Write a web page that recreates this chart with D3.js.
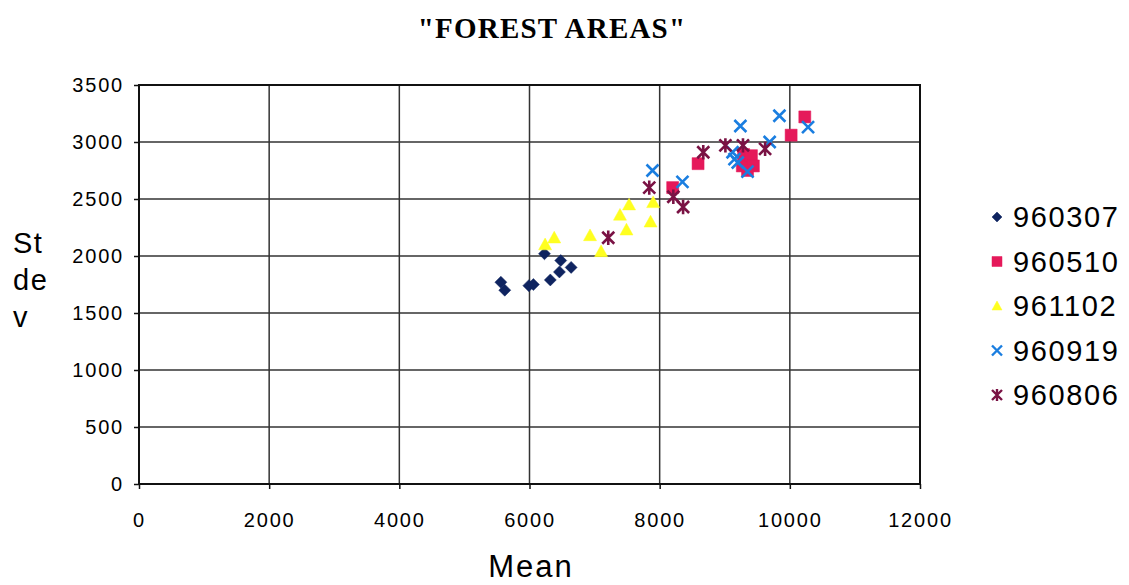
<!DOCTYPE html>
<html lang="en">
<head>
<meta charset="utf-8" />
<title>Forest areas</title>
<script src="https://cdn.jsdelivr.net/npm/d3@7"></script>
<style>
  body { margin: 0; background: #fff; }
  text { font-family: "Liberation Sans", Arial, sans-serif; fill: #000; }
</style>
</head>
<body>
<div id="chart"></div>
<script>
"use strict";

// mean / st dev pairs, one list per date
let seriesNames = ["960307", "960510", "961102", "960919", "960806"]
let colors = ["#0f2460", "#e5195a", "#ffff20", "#1a7ee0", "#7a1244"]
let shapes = ["diamond", "square", "triangle", "cross", "asterisk"]

let s960307 = [[5560,1770],[5620,1700],[5990,1740],[6060,1750],[6320,1790],[6460,1860],[6640,1900],[6480,1960],[6230,2020]]
let s960510 = [[8200,2600],[8590,2810],[9270,2790],[9290,2890],[9410,2880],[9440,2790],[9350,2750],[10020,3060],[10230,3220]]
let s961102 = [[6240,2100],[6380,2160],[6930,2180],[7100,2040],[7390,2360],[7490,2230],[7530,2450],[7860,2300],[7900,2470]]
let s960919 = [[7890,2750],[8350,2650],[9240,3140],[9840,3230],[10280,3130],[9690,3000],[9120,2910],[9150,2850],[9200,2820],[9350,2740]]
let s960806 = [[7210,2160],[7840,2600],[8210,2520],[8360,2430],[8670,2910],[9010,2970],[9280,2970],[9620,2940]]

let xTicks = [0, 2000, 4000, 6000, 8000, 10000, 12000]
let yTicks = [0, 500, 1000, 1500, 2000, 2500, 3000, 3500]

let allSeries = [s960307, s960510, s961102, s960919, s960806]

let width = 1129, height = 585
let margin = {top: 85, right: 209, bottom: 101, left: 139}

let svg = d3.select("#chart").append("svg")
  .attr("width", width).attr("height", height)

let x = d3.scaleLinear().domain([0, 12000]).range([margin.left, width - margin.right])
let y = d3.scaleLinear().domain([0, 3500]).range([height - margin.bottom, margin.top])

// marker path, centred on 0,0
function marker(shape, r) {
  if (shape == "diamond") return `M0,${-r}L${r},0L0,${r}L${-r},0Z`
  if (shape == "square") return `M${-r},${-r}H${r}V${r}H${-r}Z`
  if (shape == "triangle") return `M0,${-r}L${r},${r*0.8}H${-r}Z`
  if (shape == "cross") return `M${-r},${-r}L${r},${r}M${r},${-r}L${-r},${r}`
  return `M${-r},${-r}L${r},${r}M${r},${-r}L${-r},${r}M0,${-r*1.2}V${r*1.2}`
}

// title
svg.append("text")
  .attr("x", 552).attr("y", 38)
  .attr("text-anchor", "middle")
  .style("font-family", "'Liberation Serif', 'Times New Roman', serif")
  .style("font-weight", "bold").style("font-size", "29px").style("letter-spacing", "1.2px")
  .text('"FOREST AREAS"')

// grid
let grid = svg.append("g")
grid.selectAll(".hg").data(yTicks.slice(1, -1)).join("line")
  .attr("x1", x(0)).attr("x2", x(12000))
  .attr("y1", d => y(d)).attr("y2", d => y(d))
  .attr("stroke", "#333").attr("stroke-width", 1.5)
grid.selectAll(".vg").data(xTicks.slice(1, -1)).join("line")
  .attr("y1", y(0)).attr("y2", y(3500))
  .attr("x1", d => x(d)).attr("x2", d => x(d))
  .attr("stroke", "#333").attr("stroke-width", 1.5)

svg.append("rect")
  .attr("x", x(0)).attr("y", y(3500))
  .attr("width", x(12000) - x(0)).attr("height", y(0) - y(3500))
  .attr("fill", "none").attr("stroke", "#111").attr("stroke-width", 2)

// axes
let xAxis = svg.append("g")
  .attr("transform", `translate(0,${y(0)})`)
  .call(d3.axisBottom(x).tickValues(xTicks).tickSize(5).tickPadding(24).tickFormat(d3.format("d")))
let yAxis = svg.append("g")
  .attr("transform", `translate(${x(0)},0)`)
  .call(d3.axisLeft(y).tickValues(yTicks).tickSize(5).tickPadding(10).tickFormat(d3.format("d")))
;[xAxis, yAxis].forEach(a => {
  a.select(".domain").remove()
  a.selectAll("line").attr("stroke", "#111").attr("stroke-width", 1.5)
  a.selectAll("text").style("font-size", "20px").style("letter-spacing", "1.8px")
    .style("font-family", "'Liberation Sans', Arial, sans-serif").attr("fill", "#000")
})

// axis titles
svg.append("text")
  .attr("x", 531).attr("y", 577)
  .attr("text-anchor", "middle")
  .style("font-size", "31px").style("letter-spacing", "2px")
  .text("Mean")
let yl = svg.append("text").attr("x", 13).attr("y", 253)
  .style("font-size", "29px").style("letter-spacing", "1.5px")
;["St", "de", "v"].forEach((t, i) => yl.append("tspan").attr("x", 13).attr("dy", i ? 37 : 0).text(t))

// points
let plot = svg.append("g")
allSeries.forEach((pts, i) => {
  let isLine = shapes[i] == "cross" || shapes[i] == "asterisk"
  plot.append("g").selectAll("path").data(pts).join("path")
    .attr("transform", d => `translate(${x(d[0])},${y(d[1])})`)
    .attr("d", marker(shapes[i], shapes[i] == "triangle" ? 6.5 : 6))
    .attr("fill", isLine ? "none" : colors[i])
    .attr("stroke", colors[i])
    .attr("stroke-width", isLine ? 2.6 : 0.5)
})

// legend
let legend = svg.append("g")
seriesNames.forEach((name, i) => {
  let ly = 217 + i * 44.5
  legend.append("path")
    .attr("transform", `translate(997,${ly})`)
    .attr("d", marker(shapes[i], 5))
    .attr("fill", (shapes[i] == "cross" || shapes[i] == "asterisk") ? "none" : colors[i])
    .attr("stroke", colors[i])
    .attr("stroke-width", (shapes[i] == "cross" || shapes[i] == "asterisk") ? 2.4 : 0.5)
  legend.append("text")
    .attr("x", 1013).attr("y", ly + 10)
    .style("font-size", "29px").style("letter-spacing", "1.6px")
    .text(name)
})
</script>
</body>
</html>
